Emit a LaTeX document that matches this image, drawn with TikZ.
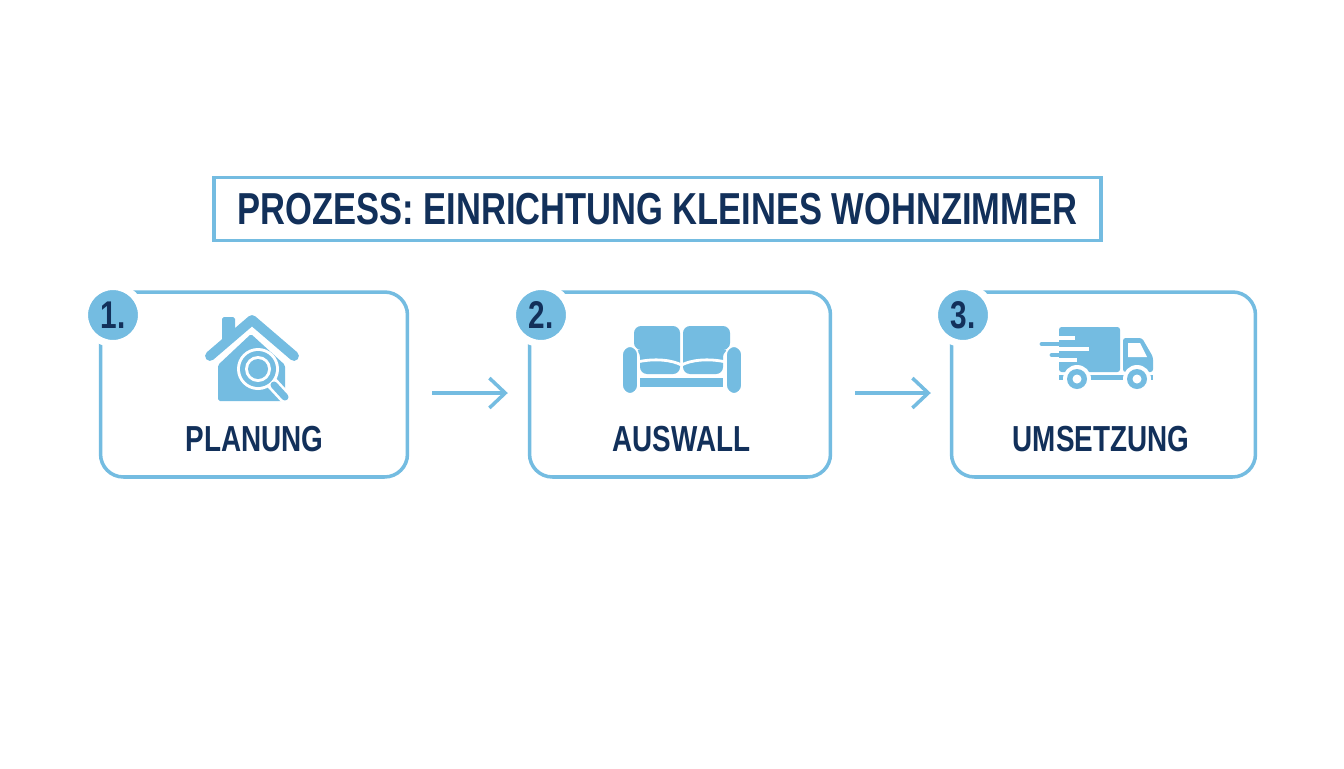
\documentclass[tikz,border=0pt]{standalone}
\usepackage{fontspec}
\setmainfont[FakeStretch=0.77]{Liberation Sans}
\usetikzlibrary{arrows.meta, positioning}
\definecolor{blue1}{HTML}{74BCE1}
\definecolor{navy1}{HTML}{12305A}

\begin{document}
\begin{tikzpicture}[x=0.02cm,y=-0.02cm]
    \tikzstyle{framebox} = [draw=blue1,line width=2pt,fill=white,inner sep=0pt]
    \tikzstyle{stepbox}  = [framebox,rounded corners=13pt,minimum height=3.7cm]
    \tikzstyle{badge}    = [circle,fill=blue1,draw=white,line width=4pt,minimum size=1.14cm,inner sep=0pt,text=navy1,font=\bfseries\fontsize{22}{22}\selectfont]
    \tikzstyle{steplabel}= [text=navy1,font=\bfseries\fontsize{20.6}{20.6}\selectfont]
    \tikzstyle{icon}     = [fill=blue1,draw=none]
    \tikzstyle{cutline}  = [draw=white,line width=1.6pt]
    \tikzstyle{flow}     = [draw=blue1,line width=2pt,-{Straight Barb[length=9pt,width=17pt]}]
    \useasboundingbox (0,0) rectangle (1344,768);
    \fill[white] (0,0) rectangle (1344,768);

    \node[framebox,minimum width=17.75cm,minimum height=1.26cm,text=navy1,font=\bfseries\fontsize{25.5}{25.5}\selectfont] (title) at (657.5,209) {PROZESS: EINRICHTUNG KLEINES WOHNZIMMER};

    \node[stepbox,minimum width=6.14cm] (planung)  at (254,384.5)  {};
    \node[stepbox,minimum width=6.02cm] (auswahl)  at (680,384.5)  {};
    \node[stepbox,minimum width=6.08cm] (umsetzen) at (1103.5,384.5) {};

    \node[badge] (b1) at (113,315) {1.};
    \node[badge] (b2) at (541,315) {2.};
    \node[badge] (b3) at (963,315) {3.};

    \node[steplabel] (t1) at (254.5,439) {PLANUNG};
    \node[steplabel] (t2) at (681.5,439) {AUSWALL};
    \node[steplabel] (t3) at (1101,439)  {UMSETZUNG};

    \draw[flow,shorten <=0.46cm,shorten >=0.40cm] ([yshift=-0.17cm]planung.east)  -- ([yshift=-0.17cm]auswahl.west);
    \draw[flow,shorten <=0.46cm,shorten >=0.38cm] ([yshift=-0.17cm]auswahl.east)  -- ([yshift=-0.17cm]umsetzen.west);

    % house
    \fill[icon,rounded corners=1pt] (218,401) -- (218,365) -- (251,334) -- (285,365) -- (285,401) -- cycle;
    \fill[icon,rounded corners=1pt] (222,343) -- (222,317) -- (235,317) -- (235,332) -- cycle;
    \draw[blue1,line width=5.6pt,line cap=round,line join=round] (210,356) -- (252,320) -- (294,356);
    \fill[white] (258,369) circle [radius=21];
    \draw[white,line width=7pt,line cap=round] (272,383) -- (285,397);
    \draw[blue1,line width=4pt,line cap=round] (274,385) -- (285,397);
    \fill[blue1] (258,369) circle [radius=18];
    \fill[white] (258,369) circle [radius=13];
    \fill[blue1] (258,369) circle [radius=10];

    % sofa
    \fill[icon,rounded corners=4pt] (640,374) -- (640,350) -- (634,350) -- (634,326) -- (680,326) -- (680,374) -- cycle;
    \fill[icon,rounded corners=4pt] (683,374) -- (683,326) -- (730,326) -- (730,350) -- (723,350) -- (723,374) -- cycle;
    \draw[cutline] (637,362) .. controls (655,358) and (672,360) .. (681.5,365) .. controls (691,360) and (708,358) .. (726,362);
    \fill[icon] (640,378) rectangle (723,387);
    \draw[white,line width=1pt,fill=blue1,rounded corners=5pt] (622,394) rectangle (638,346);
    \draw[white,line width=1pt,fill=blue1,rounded corners=5pt] (726,394) rectangle (742,346);

    % truck
    \fill[icon,rounded corners=1.5pt] (1059,372) -- (1059,327) -- (1120,327) -- (1120,372) -- cycle;
    \draw[cutline,line width=2.6pt] (1059,338) -- (1075,338);
    \draw[cutline,line width=2.6pt] (1059,349) -- (1089,349);
    \draw[cutline,line width=2.6pt] (1059,360) -- (1077,360);
    \draw[blue1,line width=2.8pt,line cap=round] (1042,344) -- (1065,344);
    \draw[blue1,line width=2.8pt,line cap=round] (1052,355) -- (1065,355);
    \fill[icon,rounded corners=1.5pt] (1123,372) -- (1123,338) -- (1142,338) -- (1153,357) -- (1153,372) -- cycle;
    \fill[white] (1128,343) -- (1140,343) -- (1147,357) -- (1128,357) -- cycle;
    \fill[icon] (1059,375) rectangle (1153,380);
    \fill[white] (1077,379) circle [radius=14];
    \fill[white] (1137,379) circle [radius=14];
    \fill[blue1] (1077,379) circle [radius=10];
    \fill[blue1] (1137,379) circle [radius=10];
    \fill[white] (1077,379) circle [radius=4.5];
    \fill[white] (1137,379) circle [radius=4.5];
\end{tikzpicture}
\end{document}
